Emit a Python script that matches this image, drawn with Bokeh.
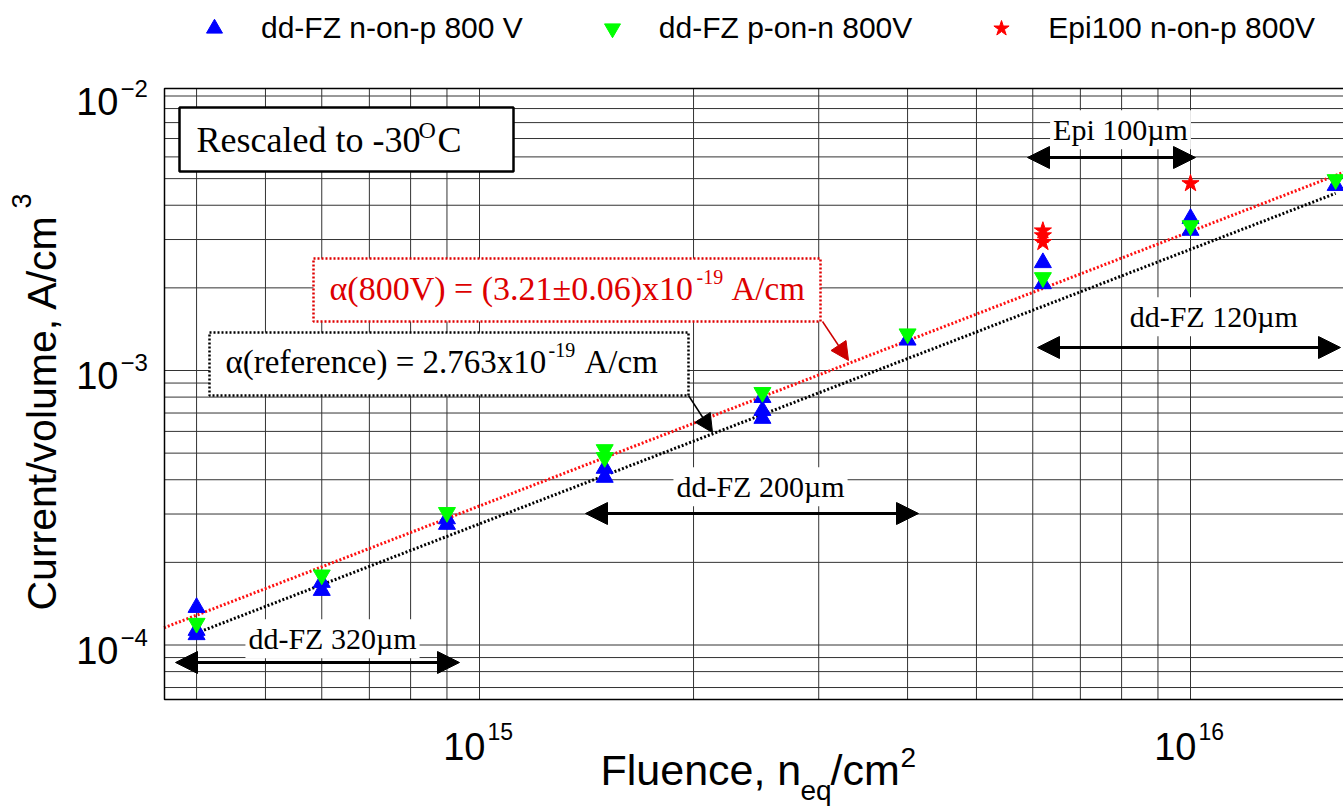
import math
from bokeh.plotting import figure
from bokeh.models import (Range1d, Label, BoxAnnotation, Arrow,
                          NormalHead, Legend, LegendItem)
from bokeh.embed import file_html
from bokeh.resources import INLINE

# ---------------- data ----------------
np_fluence = [4e14, 4e14, 4e14, 6e14, 6e14, 9e14, 9e14, 1.5e15, 1.5e15,
              2.5e15, 2.5e15, 2.5e15, 4e15, 6.2e15, 6.2e15, 1e16, 1e16, 1.6e16]
np_current = [1.37e-4, 1.13e-4, 1.09e-4, 1.69e-4, 1.58e-4, 2.88e-4, 2.75e-4,
              4.40e-4, 4.08e-4, 7.97e-4, 7.15e-4, 6.69e-4, 1.29e-3, 2.47e-3,
              2.07e-3, 3.58e-3, 3.24e-3, 4.72e-3]

pn_fluence = [4e14, 6e14, 9e14, 1.5e15, 1.5e15, 2.5e15, 4e15, 6.2e15, 1e16, 1.6e16]
pn_current = [1.20e-4, 1.80e-4, 3.04e-4, 5.15e-4, 4.82e-4, 8.32e-4, 1.36e-3,
              2.18e-3, 3.37e-3, 4.96e-3]

epi_fluence = [6.2e15, 6.2e15, 6.2e15, 1e16]
epi_current = [3.23e-3, 3.10e-3, 2.93e-3, 4.80e-3]

alpha_fit = 3.21e-19      # A/cm
alpha_ref = 2.763e-19     # A/cm
fit_fluence = [3.6e14, 1.7e16]
ref_fluence = [4e14, 1.6e16]

series_names = ["dd-FZ n-on-p 800 V", "dd-FZ p-on-n 800V", "Epi100 n-on-p 800V"]

x_decades = [1e15, 1e16]
x_exponents = ["15", "16"]
y_decades = [1e-4, 1e-3, 1e-2]
y_exponents = ["\u22124", "\u22123", "\u22122"]

x_grid = [4e14, 5e14, 6e14, 7e14, 8e14, 9e14, 1e15, 2e15, 3e15, 4e15, 5e15,
          6e15, 7e15, 8e15, 9e15, 1e16]
y_grid = [7e-5, 8e-5, 9e-5, 1e-4, 2e-4, 3e-4, 4e-4, 5e-4, 6e-4, 7e-4, 8e-4,
          9e-4, 1e-3, 2e-3, 3e-3, 4e-3, 5e-3, 6e-3, 7e-3, 8e-3, 9e-3, 1e-2]

# ---------------- pixel helpers (layout only) ----------------
X15, DX = 479.0, 711.0     # pixel of 1e15, pixels per decade
Y3, DY = 370.0, 274.5      # pixel of 1e-3, pixels per decade


def X(px):
    return 10 ** (15 + (px - X15) / DX)


def Y(py):
    return 10 ** (-3 + (Y3 - py) / DY)


def px_of(v):
    return X15 + DX * (math.log10(v) - 15)


def py_of(v):
    return Y3 - DY * (math.log10(v) + 3)


W, H = 1343, 808
FL, FR, FT, FB = 164, 1343, 88, 699   # plotting box

p = figure(width=W, height=H, x_axis_type="log", y_axis_type="log",
           x_range=Range1d(X(0), X(W)), y_range=Range1d(Y(H), Y(0)),
           output_backend="svg", toolbar_location=None,
           min_border_left=0, min_border_right=0,
           min_border_top=0, min_border_bottom=0)
p.xaxis.visible = False
p.yaxis.visible = False
p.xgrid.grid_line_color = None
p.ygrid.grid_line_color = None
p.outline_line_color = None
p.background_fill_color = "white"
p.border_fill_color = "white"

GRID = "#333333"
nx, ny = len(x_grid), len(y_grid)
p.segment(x0=x_grid, y0=[Y(FB)] * nx, x1=x_grid, y1=[Y(FT)] * nx,
          line_color=GRID, line_width=1)
p.segment(x0=[X(FL)] * ny, y0=y_grid, x1=[X(FR)] * ny, y1=y_grid,
          line_color=GRID, line_width=1)

# fit lines
p.line(fit_fluence, [alpha_fit * f for f in fit_fluence], line_color="#ff1010",
       line_width=3, line_dash="2 2")
p.line(ref_fluence, [alpha_ref * f for f in ref_fluence], line_color="black",
       line_width=3, line_dash="2 2")

r_np = p.scatter(np_fluence, np_current, marker="triangle", size=17,
                 fill_color="#0000ff", line_color="#0000ff")
r_pn = p.scatter(pn_fluence, pn_current, marker="inverted_triangle", size=17,
                 fill_color="#00ff00", line_color="#00ff00")
r_epi = p.scatter(epi_fluence, epi_current, marker="star", size=18,
                  fill_color="#ff0000", line_color="#ff0000")

# plotting box outline (left, top, bottom)
p.add_layout(BoxAnnotation(left=X(FL), right=X(W + 3), top=Y(FT), bottom=Y(FB),
                           fill_alpha=0.0, line_color="black", line_alpha=1.0,
                           line_width=1.5))

# legend across the top
legend = Legend(items=[LegendItem(label=series_names[0], renderers=[r_np]),
                       LegendItem(label=series_names[1], renderers=[r_pn]),
                       LegendItem(label=series_names[2], renderers=[r_epi])],
                orientation="horizontal", location=(194, H - 48),
                label_text_font="Liberation Sans", label_text_font_size="30px",
                label_text_color="black",
                glyph_width=40, glyph_height=40, label_standoff=27, spacing=69,
                padding=0, margin=0, border_line_color=None,
                background_fill_alpha=0)
p.add_layout(legend, "center")

SERIF = "Liberation Serif"
SANS = "Liberation Sans"
K = 0.36   # baseline correction (fraction of font size)


def lab(text, px, py, size, font=SANS, color="black", align="left", angle=0.0,
        bg=None):
    kw = {}
    if bg is not None:
        kw = dict(background_fill_color=bg, background_fill_alpha=1.0, padding=3)
    if angle == 0.0:
        py = py - K * size
    else:
        px = px - K * size
    p.add_layout(Label(x=X(px), y=Y(py), text=text, text_font=font,
                       text_font_size=f"{size}px", text_color=color,
                       text_align=align, text_baseline="alphabetic",
                       angle=angle, **kw))


# boxes
p.add_layout(BoxAnnotation(left=X(179), right=X(513), top=Y(107), bottom=Y(171),
                           fill_color="white", fill_alpha=1.0,
                           line_color="black", line_alpha=1.0, line_width=2.5))
p.add_layout(BoxAnnotation(left=X(313), right=X(820), top=Y(258), bottom=Y(321),
                           fill_color="white", fill_alpha=1.0,
                           line_color="#e00000", line_alpha=1.0, line_width=2.5,
                           line_dash="2 2"))
p.add_layout(BoxAnnotation(left=X(209), right=X(688), top=Y(332), bottom=Y(395),
                           fill_color="white", fill_alpha=1.0,
                           line_color="black", line_alpha=1.0, line_width=2.5,
                           line_dash="2 2"))

lab("Rescaled to -30", 196, 152, 36, SERIF)
lab("O", 418, 138, 24, SERIF)
lab("C", 437, 152, 36, SERIF)

RED = "#dd0000"
lab("\u03b1(800V) = (3.21\u00b10.06)x10", 329, 300, 34, SERIF, RED)
lab("-19", 696, 284, 20, SERIF, RED)
lab("A/cm", 731, 300, 33, SERIF, RED)

lab("\u03b1(reference) = 2.763x10", 225, 373, 33, SERIF)
lab("-19", 548, 357, 20, SERIF)
lab("A/cm", 584, 373, 33, SERIF)

# pointer arrows
p.add_layout(Arrow(x_start=X(822), y_start=Y(321), x_end=X(848), y_end=Y(360),
                   line_color="#cc0000", line_width=1.5,
                   end=NormalHead(size=18, fill_color="#cc0000", line_color="#cc0000")))
p.add_layout(Arrow(x_start=X(688), y_start=Y(395), x_end=X(712), y_end=Y(432),
                   line_color="black", line_width=1.5,
                   end=NormalHead(size=18, fill_color="black", line_color="black")))

# range labels, then double arrows on top
ranges = [("dd-FZ 320\u00b5m", 175, 459, 662, 332, 649),
          ("dd-FZ 200\u00b5m", 585, 918, 513, 760, 497),
          ("Epi 100\u00b5m", 1027, 1195, 157, 1120, 140),
          ("dd-FZ  120\u00b5m", 1037, 1340, 347, 1217, 327)]
for text, x0, x1, ya, xc, yb in ranges:
    lab(text, xc, yb, 30, SERIF, "black", "center", bg="white")
for text, x0, x1, ya, xc, yb in ranges:
    p.add_layout(Arrow(x_start=X(x0), y_start=Y(ya), x_end=X(x1), y_end=Y(ya),
                       line_color="black", line_width=3,
                       start=NormalHead(size=22, fill_color="black", line_color="black"),
                       end=NormalHead(size=22, fill_color="black", line_color="black")))

# tick labels
for v, e in zip(y_decades, y_exponents):
    lab("10", 118, py_of(v) + 19, 38, align="right")
    lab(e, 120, py_of(v) + 1, 24)
for v, e in zip(x_decades, x_exponents):
    lab("10", px_of(v) + 6, 760, 38, align="right")
    lab(e, px_of(v) + 8, 739, 23)

# axis titles
lab("Fluence, n", 600, 785, 43)
lab("eq", 800, 800, 28)
lab("/cm", 830, 785, 43)
lab("2", 900, 767, 28)

lab("Current/volume, A/cm", 56, 610, 41, angle=math.pi / 2)
lab("3", 31, 208, 27, angle=math.pi / 2)

open("out.html", "w").write(file_html(p, INLINE))
